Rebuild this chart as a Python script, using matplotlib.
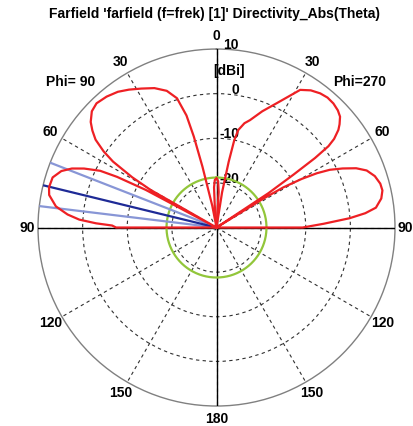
import numpy as np
import matplotlib.pyplot as plt
from matplotlib.transforms import offset_copy

plt.rcParams['font.family'] = ['Liberation Sans', 'DejaVu Sans']
plt.rcParams['font.weight'] = 'bold'

title = "Farfield 'farfield (f=frek) [1]' Directivity_Abs(Theta)"

# Phi=90 cut (left half): theta [deg], directivity [dBi]
theta_90 = [0, 2, 3.5, 4.5, 5.5, 11, 13, 14, 15, 17, 20, 24, 28.4, 32.4, 36, 40,
            44, 47, 50, 52, 54, 56, 57.5, 59.2, 60.3, 61, 62, 63, 64, 66, 67.8,
            70, 73, 76.5, 79, 82.5, 85, 86.7, 88, 88.9, 90]
dir_90 = [-19.0, -19.3, -21, -25, -30, -25, -16, -9, -4, 0.3, 2.6, 4.2, 5.4, 6.6, 7.6, 8.3,
          8.7, 8.2, 6.8, 5.3, 3.5, 0.5, -2.5, -8, -13, -30, -12, -5, -1, 2.5, 5.0,
          7.0, 8.4, 8.6, 8.2, 6.3, 3.5, 0.8, -3, -6.6, -7.5]

# Phi=270 cut (right half)
theta_270 = [0, 2, 3.5, 4.5, 9, 10.5, 11.5, 12.6, 15, 17.3, 21.5, 25.9, 31.3, 34.5,
             37.7, 40.5, 43.3, 46, 48.1, 50, 51.3, 53, 54, 54.8, 55.5, 56.5, 57.5,
             58.3, 59, 60.3, 61.6, 63, 64.9, 67, 69.2, 72, 75, 77.4, 80, 82.9, 84.5,
             86, 88, 90]
dir_270 = [-19.0, -19.6, -22, -30, -22, -15, -10, -7.6, -5.8, -4.8, -2.0, 1.0, 6.1, 7.3,
           8.0, 8.3, 8.2, 7.8, 7.2, 6.0, 5.0, 3.0, 1.0, -3, -9, -16, -30,
           -18, -12.5, -8, -4.4, -1.5, 1.2, 4.0, 6.0, 7.3, 8.0, 8.1, 7.5, 6.0, 3.5,
           -0.1, -6, -10.7]

main_dir = 76.3            # main lobe direction (phi=90)
beam_edges = [68.7, 83.1]  # 3 dB beamwidth
side_level = -18.8         # green circle

r_min, r_max = -30, 10
rings = [-20, -10, 0]
r_labels = [10, 0, -10, -20]
ang_ticks = list(range(0, 360, 30))
ang_labels = ['0', '30', '60', '90', '120', '150', '180', '150', '120', '90', '60', '30']

fig = plt.figure(figsize=(4.14, 4.26), dpi=100)
ax = fig.add_axes([0.0918, 0.0469, 0.8623, 0.838], projection='polar')
ax.set_theta_zero_location('N')
ax.set_theta_direction(1)
ax.set_ylim(r_min, r_max)
ax.set_yticks(rings)
ax.set_yticklabels([])
ax.set_xticks(np.radians(ang_ticks))
ax.set_xticklabels([])
ax.grid(True, color='#303030', lw=0.8, linestyle=(0, (3, 3)))
ax.spines['polar'].set_color('#808080')
ax.spines['polar'].set_linewidth(1.0)

# solid axes through the centre
ax.plot([0, 0, np.pi], [r_max, r_min, r_max], color='black', lw=1, zorder=3)
ax.plot([np.pi / 2, np.pi / 2, 3 * np.pi / 2], [r_max, r_min, r_max], color='black', lw=1, zorder=3)

# green level circle
t = np.linspace(0, 2 * np.pi, 361)
ax.plot(t, np.full_like(t, side_level), color='#92c63a', lw=1.6, zorder=4)

# beam direction lines
for b in beam_edges:
    ax.plot([np.radians(b)] * 2, [r_min, r_max], color='#8896d6', lw=1.6, zorder=4)
ax.plot([np.radians(main_dir)] * 2, [r_min, r_max], color='#1e2a96', lw=1.6, zorder=4)

# pattern
ax.plot(np.radians(theta_90 + [90]), dir_90 + [r_min], color='#ee2024', lw=1.6, zorder=5)
ax.plot(-np.radians(theta_270 + [90]), dir_270 + [r_min], color='#ee2024', lw=1.6, zorder=5)

# angle labels
for a, lab in zip(ang_ticks, ang_labels):
    r_lab = 12.4 if a in (90, 270) else 12.9
    ax.text(np.radians(a), r_lab, lab, ha='center', va='center', fontsize=10, clip_on=False)

# radial labels along the vertical axis
tr = offset_copy(ax.transData, fig=fig, x=22.5, y=4, units='dots')
for v in r_labels:
    ax.text(0, v, str(v), transform=tr, ha='right', va='center', fontsize=10, clip_on=False)
tr2 = offset_copy(ax.transData, fig=fig, x=12.5, y=0, units='dots')
ax.text(0, 5, '[dBi]', transform=tr2, ha='center', va='center', fontsize=10)

ax.text(0.0924, 0.9076, 'Phi= 90', transform=ax.transAxes, ha='center', va='center', fontsize=10)
ax.text(0.902, 0.9076, 'Phi=270', transform=ax.transAxes, ha='center', va='center', fontsize=10)

fig.text(215 / 414, 1 - 14 / 426, title, ha='center', va='center', fontsize=10)

fig.savefig('out.png', dpi=100)
